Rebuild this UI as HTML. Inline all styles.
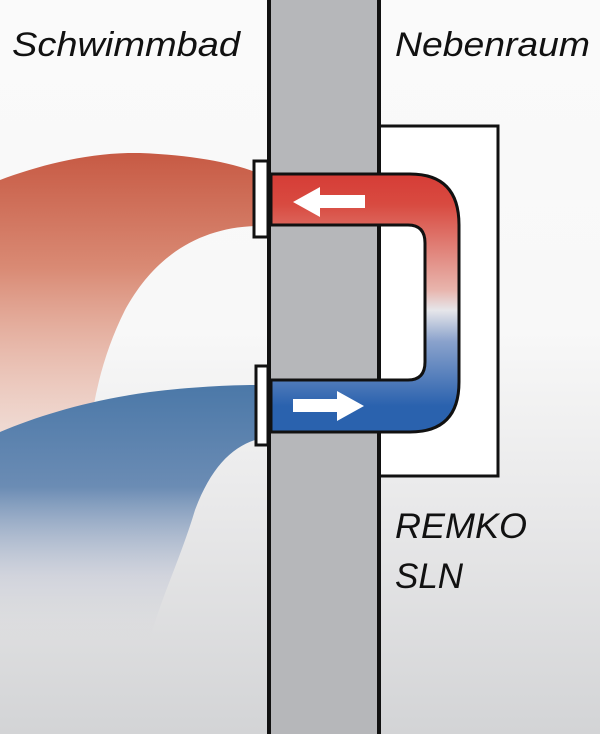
<!DOCTYPE html>
<html><head><style>
html,body{margin:0;padding:0}
body{width:600px;height:734px;overflow:hidden;background:linear-gradient(#fafafa 0%,#f8f8f8 45%,#e8e8e9 70%,#d3d4d6 100%);font-family:"Liberation Sans",sans-serif}
</style></head><body>
<svg width="600" height="734" viewBox="0 0 600 734" xmlns="http://www.w3.org/2000/svg" style="position:absolute;left:0;top:0">
<defs>
<linearGradient id="red" x1="0" y1="0" x2="0" y2="1">
<stop offset="0" stop-color="#c75a44"/><stop offset="0.4" stop-color="#d98a74"/><stop offset="1" stop-color="#f0d0c4" stop-opacity="0.6"/>
</linearGradient>
<linearGradient id="blue" x1="0" y1="0" x2="0" y2="1">
<stop offset="0" stop-color="#4b78a8"/><stop offset="0.4" stop-color="#6b8cb4"/><stop offset="0.75" stop-color="#c6cad8" stop-opacity="0.6"/><stop offset="1" stop-color="#d6d7da" stop-opacity="0"/>
</linearGradient>
<linearGradient id="pipe" x1="0" y1="173" x2="0" y2="432" gradientUnits="userSpaceOnUse">
<stop offset="0" stop-color="#d63c36"/><stop offset="0.12" stop-color="#d84a40"/><stop offset="0.45" stop-color="#e8b4ac"/><stop offset="0.53" stop-color="#e6e6ea"/><stop offset="0.65" stop-color="#8aa2cc"/><stop offset="0.9" stop-color="#2a62ae"/><stop offset="1" stop-color="#2a62ae"/>
</linearGradient>
</defs>
<path d="M0 180 C40 165 90 152 140 153 C190 155 230 162 255 172 L255 226 C200 228 155 255 125 310 C105 350 95 390 90 430 L0 440 Z" fill="url(#red)"/>
<path d="M0 432 C40 415 90 400 150 392 C190 387 230 385 255 385 L255 440 C230 448 210 470 195 510 C180 560 160 600 150 640 L0 640 Z" fill="url(#blue)"/>
<rect x="375" y="126" width="123" height="350" fill="#fff" stroke="#111" stroke-width="3"/>
<rect x="269" y="-5" width="110" height="750" fill="#b6b7ba" stroke="#111" stroke-width="4"/>
<path d="M271 174 L410 174 Q459 174 459 225 L459 382 Q459 432 410 432 L271 432 L271 380 L408 380 Q425 380 425 362 L425 243 Q425 225 408 225 L271 225 Z" fill="url(#pipe)" stroke="#111" stroke-width="3"/>
<rect x="254" y="161" width="14" height="76" fill="#fff" stroke="#111" stroke-width="3"/>
<rect x="256" y="366" width="12" height="79" fill="#fff" stroke="#111" stroke-width="3"/>
<polygon points="293,202 320,187 320,195 365,195 365,208 320,208 320,217" fill="#fff"/>
<polygon points="364,406 337,391 337,399 293,399 293,412 337,412 337,421" fill="#fff"/>
<text x="12" y="56" font-size="34" font-style="italic" fill="#111" textLength="228" lengthAdjust="spacingAndGlyphs">Schwimmbad</text>
<text x="395" y="56" font-size="34" font-style="italic" fill="#111" textLength="195" lengthAdjust="spacingAndGlyphs">Nebenraum</text>
<text x="395" y="538" font-size="35" font-style="italic" fill="#111" textLength="132" lengthAdjust="spacingAndGlyphs">REMKO</text>
<text x="395" y="588" font-size="35" font-style="italic" fill="#111">SLN</text>
</svg>
</body></html>
